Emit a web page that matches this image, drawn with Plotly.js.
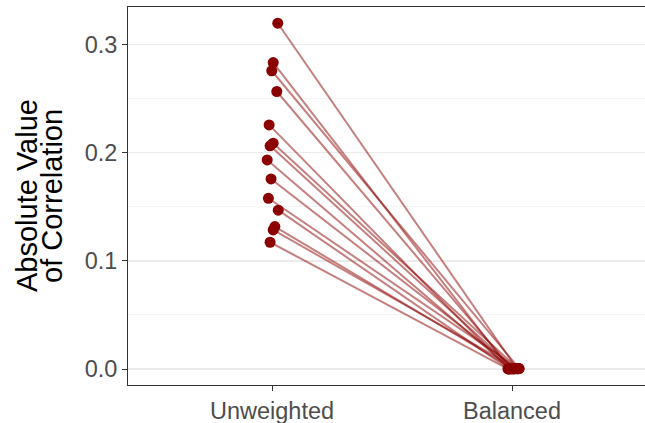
<!DOCTYPE html>
<html>
<head>
<meta charset="utf-8">
<script src="https://cdn.plot.ly/plotly-3.0.1.min.js"></script>
<style>
html, body { margin: 0; padding: 0; background: #fff; overflow: hidden; }
#chart { width: 660px; height: 423px; }
</style>
</head>
<body>
<div id="chart"></div>
<script>
// Categories and tick labels
var categories = ["Unweighted", "Balanced"];
var yTickVals = [0, 0.1, 0.2, 0.3];
var yTickText = ["0.0", "0.1", "0.2", "0.3"];

// Absolute correlation per covariate, before weighting
var unweighted = [0.320, 0.2836, 0.276, 0.2568, 0.2259, 0.209, 0.2065, 0.1935, 0.1759, 0.158, 0.147, 0.1318, 0.1287, 0.1173];
// Absolute correlation per covariate, after balancing
var balanced = [0.0003, 0.0002, 0.0004, 0.0001, 0.0002, 0.0003, 0.0001, 0.0002, 0.0004, 0.0003, 0.0001, 0.0002, 0.0003, 0.0001];
// Horizontal jitter (category units)
var jitterUnweighted = [0.024, 0.005, -0.001, 0.020, -0.012, 0.005, -0.008, -0.020, -0.004, -0.015, 0.026, 0.012, 0.005, -0.008];
var jitterBalanced = [0.020, -0.010, 0.030, 0.000, -0.015, 0.025, 0.010, -0.005, 0.015, 0.028, -0.012, 0.005, 0.022, -0.017];

var traces = [];
for (var i = 0; i < unweighted.length; i++) {
  traces.push({
    type: "scatter", mode: "lines",
    x: [0 + jitterUnweighted[i], 1 + jitterBalanced[i]],
    y: [unweighted[i], balanced[i]],
    line: { color: "rgba(139,0,0,0.5)", width: 2 },
    hoverinfo: "skip", showlegend: false
  });
}
var px = [], py = [];
for (var j = 0; j < unweighted.length; j++) {
  px.push(0 + jitterUnweighted[j]); py.push(unweighted[j]);
  px.push(1 + jitterBalanced[j]); py.push(balanced[j]);
}
traces.push({
  type: "scatter", mode: "markers", x: px, y: py,
  marker: { color: "#8B0000", size: 11 },
  showlegend: false
});

var fontFam = "Liberation Sans, Arial, sans-serif";
var layout = {
  width: 660, height: 423,
  margin: { l: 128, r: 4, t: 7, b: 38 },
  paper_bgcolor: "#fff", plot_bgcolor: "#fff",
  showlegend: false,
  xaxis: {
    range: [-0.6, 1.6],
    tickvals: [0, 1], ticktext: categories,
    showgrid: false, zeroline: false,
    showline: true, mirror: true, linecolor: "#333", linewidth: 1,
    ticks: "outside", ticklen: 5, tickcolor: "#333", tickwidth: 1,
    tickfont: { family: fontFam, size: 23.5, color: "#4d4d4d" }
  },
  yaxis: {
    range: [-0.0148, 0.335],
    tickvals: yTickVals, ticktext: yTickText,
    showgrid: true, gridcolor: "#ebebeb", gridwidth: 1.2,
    minor: { tickvals: [0.05, 0.15, 0.25], showgrid: true, gridcolor: "#f2f2f2", gridwidth: 0.8, ticks: "" },
    zeroline: false,
    showline: true, mirror: true, linecolor: "#333", linewidth: 1,
    ticks: "outside", ticklen: 5, tickcolor: "#333", tickwidth: 1,
    tickfont: { family: fontFam, size: 23.5, color: "#4d4d4d" }
  },
  annotations: [
    { text: "Absolute Value", xref: "paper", yref: "paper", x: (27 - 128) / 528, y: 0.5,
      xanchor: "center", yanchor: "middle", textangle: -90, showarrow: false,
      font: { family: fontFam, size: 29, color: "#000" } },
    { text: "of Correlation", xref: "paper", yref: "paper", x: (52 - 128) / 528, y: 0.5,
      xanchor: "center", yanchor: "middle", textangle: -90, showarrow: false,
      font: { family: fontFam, size: 29, color: "#000" } }
  ]
};
Plotly.newPlot("chart", traces, layout, { displayModeBar: false, staticPlot: true });
</script>
</body>
</html>
